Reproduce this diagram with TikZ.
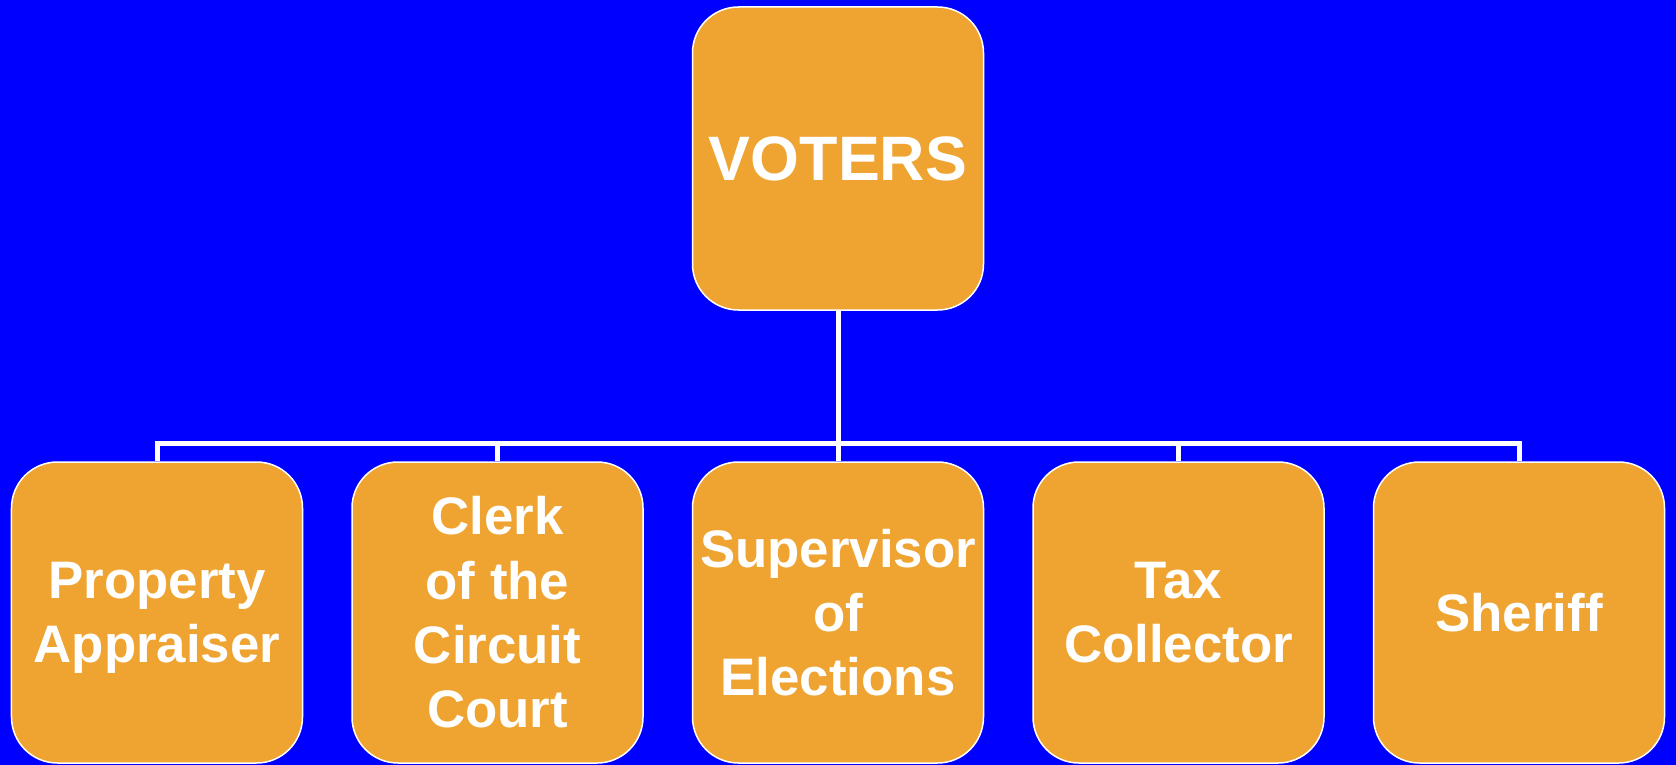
\documentclass[tikz,border=0pt]{standalone}
\usepackage{fontspec}
\setmainfont{Liberation Sans}
\definecolor{bgblue}{HTML}{0000FF}
\definecolor{boxorange}{HTML}{EFA331}
\tikzset{
  orgbox/.style={draw=white, line width=1.5bp, fill=boxorange, rounded corners=46bp,
    minimum width=291bp, minimum height=301bp, inner sep=0pt, align=center,
    text=white, font=\bfseries\fontsize{53}{64.5}\selectfont},
  topbox/.style={orgbox, minimum height=303bp, font=\bfseries\fontsize{63}{72}\selectfont},
  conn/.style={draw=white, line width=5bp}
}
\begin{document}
\begin{tikzpicture}[x=1bp,y=-1bp]
\fill[bgblue] (0,0) rectangle (1676,765);
\useasboundingbox (0,0) rectangle (1676,765);
\node[topbox] (v) at (838,158.5) {VOTERS};
\node[orgbox, text depth=0pt] (c1) at (157,612.5) {Property\\Appraiser};
\node[orgbox] (c2) at (497.5,612.5) {Clerk\\of the\\Circuit\\Court};
\node[orgbox] (c3) at (838,612.5) {Supervisor\\of\\Elections};
\node[orgbox] (c4) at (1178.5,612.5) {Tax\\Collector};
\node[orgbox] (c5) at (1519,612.5) {Sheriff};
\coordinate (bus) at (838,443);
\draw[conn] (v.south) -- (bus);
\draw[conn] (c1.north) |- (bus) -| (c5.north);
\draw[conn] (c2.north) -- (c2.north |- bus);
\draw[conn] (c3.north) -- (bus);
\draw[conn] (c4.north) -- (c4.north |- bus);
\end{tikzpicture}
\end{document}
